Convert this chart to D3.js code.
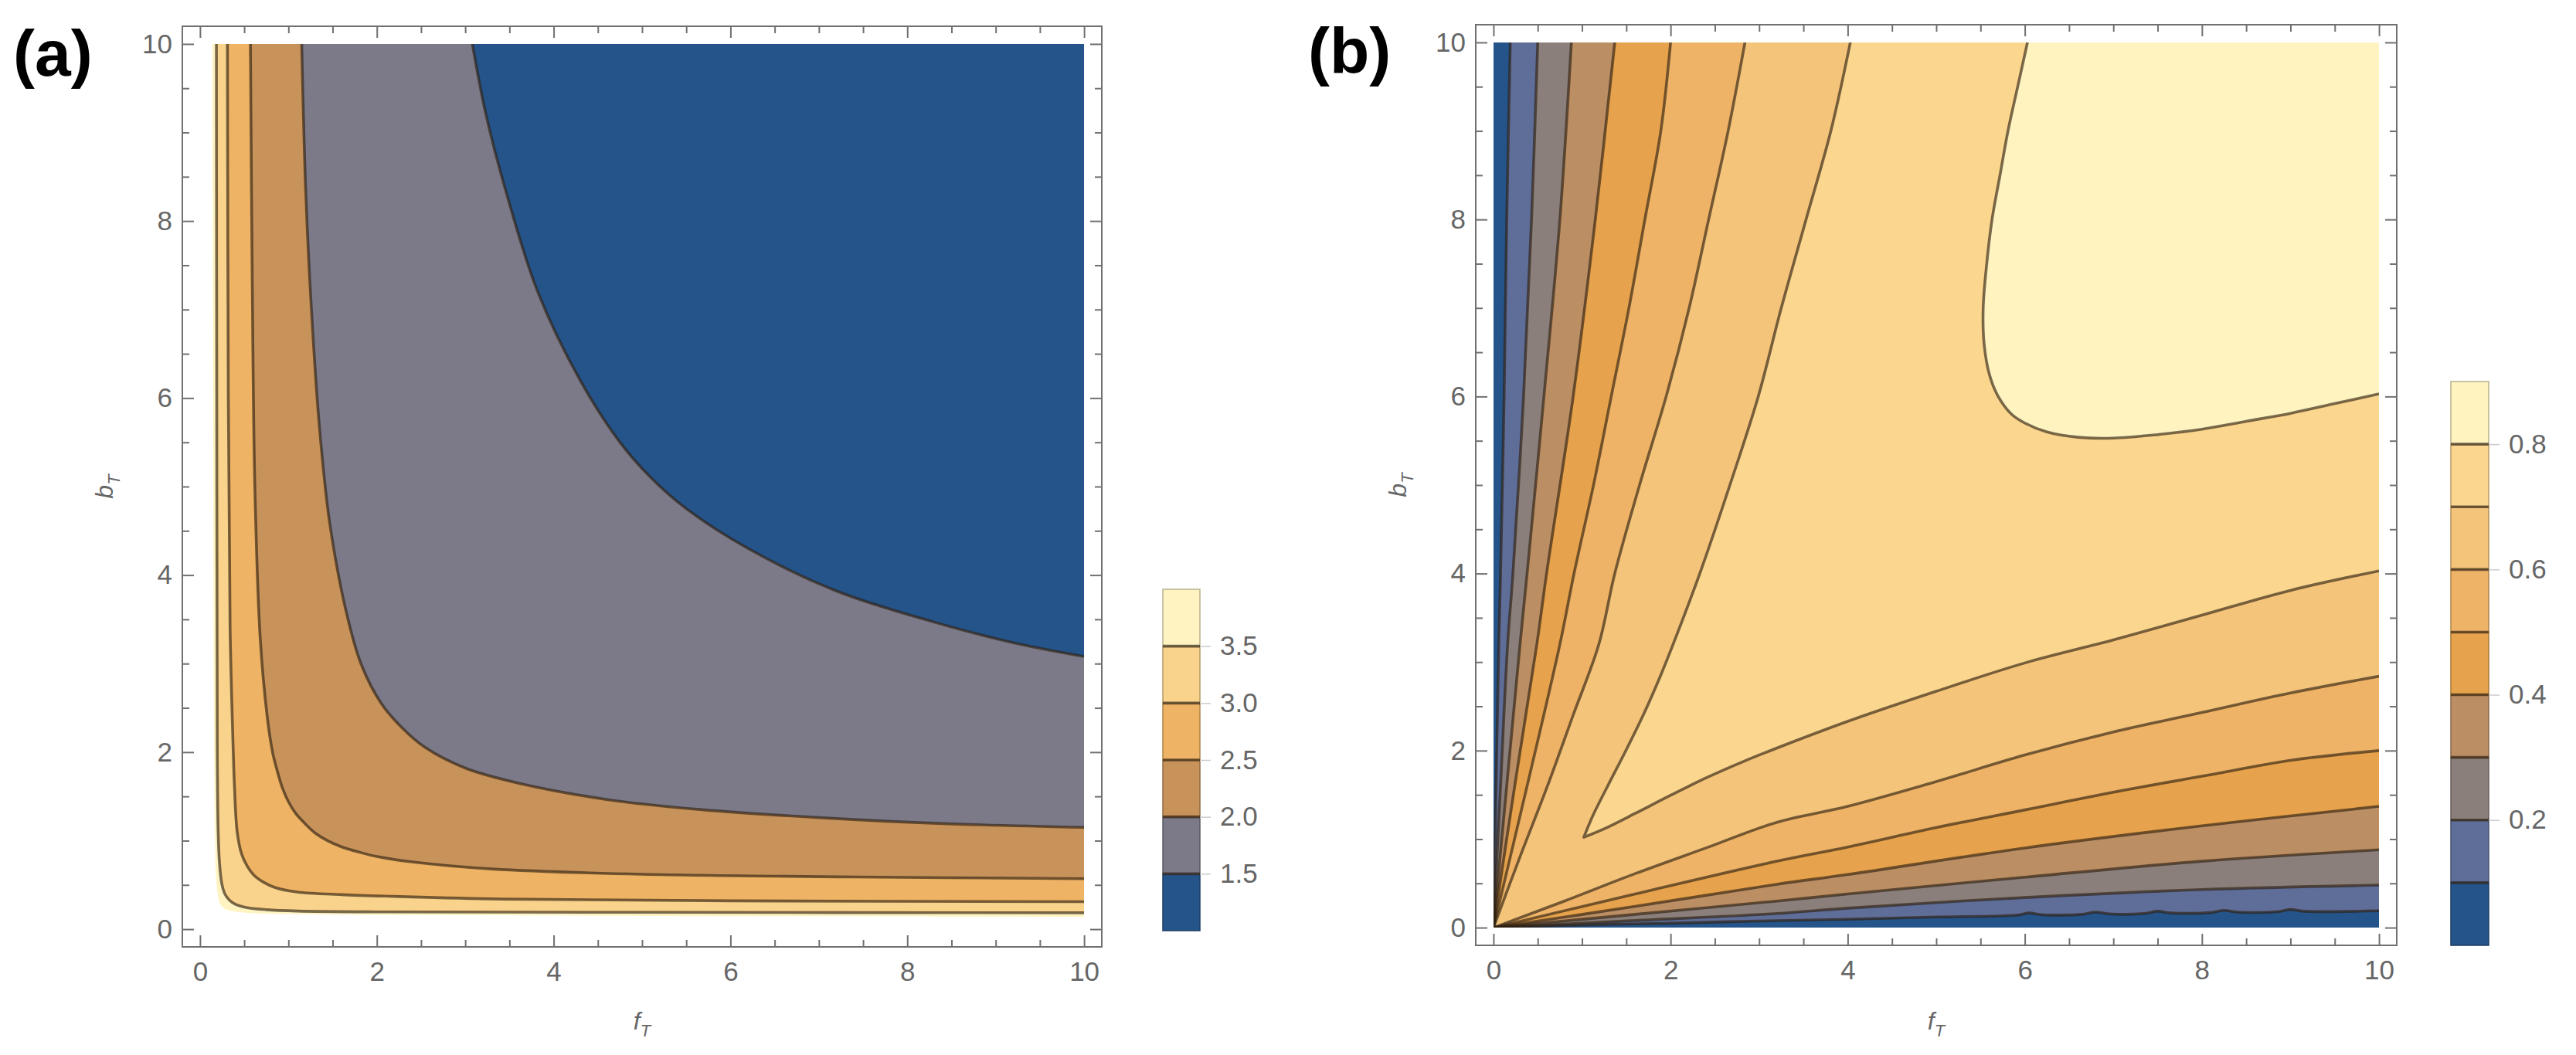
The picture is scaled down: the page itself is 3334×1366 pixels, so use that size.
<!DOCTYPE html>
<html><head><meta charset="utf-8">
<script src="https://cdn.jsdelivr.net/npm/d3@7"></script>
<style>html,body{margin:0;padding:0;background:#fff;}</style>
</head><body>
<svg id="chart" width="3334" height="1366" xmlns="http://www.w3.org/2000/svg"></svg>
<script>
// ---------------- DATA ----------------
const axisMajorTicks = [0, 2, 4, 6, 8, 10];
const axisMinorTicks = [0.5, 1, 1.5, 2.5, 3, 3.5, 4.5, 5, 5.5, 6.5, 7, 7.5, 8.5, 9, 9.5];

// Panel (a): contour levels and the contour lines [f_T, b_T], from top edge to right edge
const aLevels = [1.0, 1.5, 2.0, 2.5, 3.0, 3.5, 4.0];
const aLegendTicks = [1.5, 2.0, 2.5, 3.0, 3.5];
const aC15 = [[3.08,10],[3.235,9.2],[3.47,8.3],[3.82,7.2],[4.30,6.2],[4.75,5.5],[5.1,5.1],[5.5,4.75],[6.2,4.30],[7.2,3.82],[8.3,3.47],[9.2,3.235],[10,3.08]];
const aC20 = [[1.15,10],[1.195,8.35],[1.26,7.0],[1.35,5.68],[1.465,4.6],[1.65,3.6],[1.82,3.0],[2.05,2.55],[2.28,2.28],[2.55,2.05],[3.0,1.82],[3.6,1.65],[4.6,1.465],[5.68,1.35],[7.0,1.26],[8.35,1.195],[10,1.15]];
const aC25 = [[0.57,10],[0.59,7.4],[0.62,5.0],[0.68,3.3],[0.76,2.4],[0.82,2.0],[0.87,1.8],[0.93,1.6],[1.0,1.44],[1.08,1.31],[1.19,1.19],[1.31,1.08],[1.44,1.0],[1.6,0.93],[1.8,0.87],[2.0,0.82],[2.4,0.76],[3.3,0.68],[5.0,0.62],[7.4,0.59],[10,0.57]];
const aC30 = [[0.31,10],[0.32,6],[0.34,3.4],[0.37,2.2],[0.39,1.6],[0.42,1.1],[0.47,0.85],[0.53,0.72],[0.61,0.61],[0.72,0.53],[0.85,0.47],[1.1,0.42],[1.6,0.39],[2.2,0.37],[3.4,0.34],[6,0.32],[10,0.31]];
const aC35 = [[0.185,10],[0.19,5],[0.195,2],[0.205,1.1],[0.22,0.75],[0.245,0.52],[0.28,0.4],[0.33,0.33],[0.4,0.28],[0.52,0.245],[0.75,0.22],[1.1,0.205],[2,0.195],[5,0.19],[10,0.185]];
const aC40 = [[0.14,10],[0.15,5],[0.16,2],[0.17,1],[0.18,0.6],[0.2,0.4],[0.23,0.28],[0.28,0.23],[0.4,0.2],[0.6,0.18],[1,0.17],[2,0.16],[5,0.15],[10,0.14]];

// Panel (b): contour levels; each line = upper branch (top edge -> origin/vertex) + lower branch (-> right edge)
const bLevels = [0.0, 0.1, 0.2, 0.3, 0.4, 0.5, 0.6, 0.7, 0.8, 0.9];
const bLegendTicks = [0.2, 0.4, 0.6, 0.8];
const bC01U = [[0.19,10],[0.15,8],[0.12,6],[0.08,4],[0.06,3.2],[0.03,1.6],[0,0]];
const bC01L = [[0,0],[1,0.03],[2,0.05],[3,0.075],[4,0.095],[5,0.12],[5.9,0.14],[6.05,0.165],[6.2,0.145],[6.65,0.15],[6.8,0.175],[6.95,0.155],[7.35,0.16],[7.5,0.185],[7.65,0.165],[8.1,0.17],[8.25,0.195],[8.4,0.175],[8.85,0.18],[9.0,0.205],[9.15,0.185],[10,0.19]];
const bC02U = [[0.50,10],[0.43,8],[0.34,6],[0.22,4],[0.16,3.2],[0.08,1.6],[0,0]];
const bC02L = [[0,0],[1.6,0.08],[3.2,0.16],[4,0.22],[6,0.34],[8,0.43],[10,0.48]];
const bC03U = [[0.88,10],[0.75,8],[0.57,6],[0.38,4],[0.30,3.2],[0.15,1.6],[0,0]];
const bC03L = [[0,0],[1.6,0.15],[3.2,0.30],[4,0.38],[6,0.57],[8,0.75],[10,0.88]];
const bC04U = [[1.37,10],[1.15,8],[0.90,6],[0.60,4],[0.49,3.2],[0.24,1.6],[0,0]];
const bC04L = [[0,0],[1.6,0.24],[3.2,0.49],[4,0.60],[6,0.90],[8,1.15],[10,1.37]];
const bC05U = [[2.00,10],[1.89,9],[1.71,8],[1.53,7],[1.33,6],[1.13,5],[0.91,4],[0.75,3.2],[0.38,1.6],[0,0]];
const bC05L = [[0,0],[1.6,0.38],[3.2,0.75],[4,0.91],[5,1.13],[6,1.33],[7,1.53],[8,1.71],[9,1.89],[10,2.00]];
const bC06U = [[2.84,10],[2.65,9],[2.43,8],[2.21,7],[1.95,6],[1.65,5],[1.37,4],[1.19,3.2],[0.90,2.4],[0.61,1.6],[0.30,0.8],[0,0]];
const bC06L = [[0,0],[0.8,0.30],[1.6,0.61],[2.4,0.90],[3.2,1.19],[4,1.37],[5,1.65],[6,1.95],[7,2.21],[8,2.43],[9,2.65],[10,2.84]];
const bC07U = [[4.03,10],[3.81,9],[3.53,8],[3.25,7],[2.99,6],[2.67,5],[2.33,4],[2.04,3.23],[1.88,2.83],[1.70,2.42],[1.50,2.01],[1.29,1.60],[1.12,1.26],[1.02,1.02]];
const bC07L = [[1.02,1.02],[1.26,1.12],[1.60,1.29],[2.01,1.50],[2.42,1.70],[2.83,1.88],[3.23,2.04],[4,2.33],[5,2.67],[6,2.99],[7,3.25],[8,3.53],[9,3.81],[10,4.03]];
const bC08 = [[6.03,10],[5.92,9.5],[5.81,9],[5.72,8.5],[5.63,8],[5.57,7.5],[5.53,7],[5.54,6.6],[5.60,6.25],[5.70,6.0],[5.85,5.80],[6.0,5.70],[6.25,5.60],[6.6,5.54],[7,5.53],[7.5,5.57],[8,5.63],[8.5,5.72],[9,5.81],[9.5,5.92],[10,6.03]];

// ---------------- STYLE ----------------
const aColors = ["#25548a", "#7c7a89", "#c8935b", "#eeb365", "#f9d28b", "#fff4c1"];
const bColors = ["#25548a", "#5f6e98", "#8b7f7b", "#bb8e64", "#e6a24c", "#eeb366", "#f4c47b", "#fbd68f", "#fff3c0"];
const lineStroke = "rgba(45,32,15,0.64)";
const FONT = "'Liberation Sans', Arial, Helvetica, sans-serif";
const GRAY = "#666666";
const FRAME = "#707070";

const svg = d3.select("#chart");

function lineGen(x, y) {
  return d3.line().x(d => x(d[0])).y(d => y(d[1])).curve(d3.curveCatmullRom.alpha(0.5));
}
function branchesPath(branches, lg) {
  return branches.map((b, i) => { const s = lg(b); return i === 0 ? s : "L" + s.slice(1); }).join("");
}

function drawPanel(cfg) {
  const { id, frame, baseColor, layers, strokes, label, labelPos } = cfg;
  const x = d3.scaleLinear([-0.2, 10.2], [frame.left, frame.right]);
  const y = d3.scaleLinear([-0.2, 10.2], [frame.bottom, frame.top]);
  const g = svg.append("g");
  const clipId = "clip-" + id;
  g.append("clipPath").attr("id", clipId).append("rect")
    .attr("x", x(0)).attr("y", y(10)).attr("width", x(10) - x(0)).attr("height", y(0) - y(10));
  const plot = g.append("g").attr("clip-path", `url(#${clipId})`);
  plot.append("rect").attr("x", x(0)).attr("y", y(10)).attr("width", x(10) - x(0)).attr("height", y(0) - y(10)).attr("fill", baseColor);
  const lg = lineGen(x, y);
  const corner = `L${x(10)},${y(10)}Z`;
  layers.forEach(L => {
    plot.append("path").attr("d", branchesPath(L.branches, lg) + corner).attr("fill", L.color).attr("stroke", "none");
  });
  strokes.forEach(br => {
    plot.append("path").attr("d", branchesPath(br, lg)).attr("fill", "none")
      .attr("stroke", lineStroke).attr("stroke-width", 3.6).attr("stroke-linejoin", "round");
  });

  // frame
  g.append("rect").attr("x", frame.left).attr("y", frame.top)
    .attr("width", frame.right - frame.left).attr("height", frame.bottom - frame.top)
    .attr("fill", "none").attr("stroke", FRAME).attr("stroke-width", 2);

  const styleAxis = sel => {
    sel.attr("font-family", FONT).attr("font-size", 35);
    sel.select(".domain").remove();
    sel.selectAll(".tick line").attr("stroke", FRAME).attr("stroke-width", 2);
    sel.selectAll(".tick text").attr("fill", GRAY);
  };
  const blank = () => "";
  // major ticks (all four sides, inward)
  g.append("g").attr("transform", `translate(0,${frame.bottom})`)
    .call(d3.axisBottom(x).tickValues(axisMajorTicks).tickSizeInner(-15).tickSizeOuter(0).tickPadding(19).tickFormat(d3.format("d"))).call(styleAxis);
  g.append("g").attr("transform", `translate(${frame.left},0)`)
    .call(d3.axisLeft(y).tickValues(axisMajorTicks).tickSizeInner(-15).tickSizeOuter(0).tickPadding(13).tickFormat(d3.format("d"))).call(styleAxis);
  g.append("g").attr("transform", `translate(0,${frame.top})`)
    .call(d3.axisTop(x).tickValues(axisMajorTicks).tickSizeInner(-15).tickSizeOuter(0).tickFormat(blank)).call(styleAxis);
  g.append("g").attr("transform", `translate(${frame.right},0)`)
    .call(d3.axisRight(y).tickValues(axisMajorTicks).tickSizeInner(-15).tickSizeOuter(0).tickFormat(blank)).call(styleAxis);
  // minor ticks
  g.append("g").attr("transform", `translate(0,${frame.bottom})`)
    .call(d3.axisBottom(x).tickValues(axisMinorTicks).tickSizeInner(-9).tickSizeOuter(0).tickFormat(blank)).call(styleAxis);
  g.append("g").attr("transform", `translate(${frame.left},0)`)
    .call(d3.axisLeft(y).tickValues(axisMinorTicks).tickSizeInner(-9).tickSizeOuter(0).tickFormat(blank)).call(styleAxis);
  g.append("g").attr("transform", `translate(0,${frame.top})`)
    .call(d3.axisTop(x).tickValues(axisMinorTicks).tickSizeInner(-9).tickSizeOuter(0).tickFormat(blank)).call(styleAxis);
  g.append("g").attr("transform", `translate(${frame.right},0)`)
    .call(d3.axisRight(y).tickValues(axisMinorTicks).tickSizeInner(-9).tickSizeOuter(0).tickFormat(blank)).call(styleAxis);

  // axis labels
  const cx = (x(0) + x(10)) / 2, cy = (y(0) + y(10)) / 2;
  const fl = g.append("text").attr("x", cx).attr("y", 1333).attr("text-anchor", "middle")
    .attr("font-family", FONT).attr("font-size", 32).attr("fill", GRAY).attr("font-style", "italic");
  fl.append("tspan").text("f");
  fl.append("tspan").attr("dy", 9).attr("font-size", 22).text("T");
  const bl = g.append("text").attr("transform", `translate(${frame.left - 90},${cy}) rotate(-90)`).attr("text-anchor", "middle")
    .attr("font-family", FONT).attr("font-size", 32).attr("fill", GRAY).attr("font-style", "italic");
  bl.append("tspan").text("b");
  bl.append("tspan").attr("dy", 9).attr("font-size", 22).text("T");

  // panel label
  g.append("text").attr("x", labelPos[0]).attr("y", labelPos[1]).attr("font-family", FONT)
    .attr("font-weight", "bold").attr("font-size", 84).attr("fill", "#000").text(label);
}

function drawLegend(cfg) {
  const { levels, colors, ticks, x0, width, top, bottom } = cfg;
  const s = d3.scaleLinear([levels[0], levels[levels.length - 1]], [bottom, top]);
  const g = svg.append("g");
  for (let i = 0; i < colors.length; i++) {
    g.append("rect").attr("x", x0).attr("y", s(levels[i + 1])).attr("width", width)
      .attr("height", s(levels[i]) - s(levels[i + 1])).attr("fill", colors[i])
      .attr("stroke", d3.color(colors[i]).darker(0.9)).attr("stroke-width", 1.5);
  }
  levels.slice(1, -1).forEach(v => {
    g.append("line").attr("x1", x0).attr("x2", x0 + width).attr("y1", s(v)).attr("y2", s(v))
      .attr("stroke", lineStroke).attr("stroke-width", 3.6);
  });
  const ax = g.append("g").attr("transform", `translate(${x0 + width},0)`)
    .call(d3.axisRight(s).tickValues(ticks).tickSizeInner(14).tickSizeOuter(0).tickPadding(12).tickFormat(d3.format(".1f")));
  ax.attr("font-family", FONT).attr("font-size", 35);
  ax.select(".domain").remove();
  ax.selectAll(".tick line").attr("stroke", "#cccccc").attr("stroke-width", 1.5);
  ax.selectAll(".tick text").attr("fill", GRAY);
}

// Panel (a)
drawPanel({
  id: "a",
  frame: { left: 236, right: 1426, top: 34, bottom: 1226 },
  baseColor: "#ffffff",
  layers: [
    { branches: [aC40], color: aColors[5] },
    { branches: [aC35], color: aColors[4] },
    { branches: [aC30], color: aColors[3] },
    { branches: [aC25], color: aColors[2] },
    { branches: [aC20], color: aColors[1] },
    { branches: [aC15], color: aColors[0] }
  ],
  strokes: [[aC35], [aC30], [aC25], [aC20], [aC15]],
  label: "(a)", labelPos: [17, 98]
});
drawLegend({ levels: aLevels, colors: aColors, ticks: aLegendTicks, x0: 1505, width: 48, top: 763, bottom: 1205 });

// Panel (b)
const bBranches = [[bC01U, bC01L], [bC02U, bC02L], [bC03U, bC03L], [bC04U, bC04L], [bC05U, bC05L], [bC06U, bC06L], [bC07U, bC07L], [bC08]];
drawPanel({
  id: "b",
  frame: { left: 1910, right: 3102, top: 32, bottom: 1224 },
  baseColor: bColors[0],
  layers: bBranches.map((br, i) => ({ branches: br, color: bColors[i + 1] })),
  strokes: bBranches,
  label: "(b)", labelPos: [1693, 95]
});
drawLegend({ levels: bLevels, colors: bColors, ticks: bLegendTicks, x0: 3172, width: 49, top: 494, bottom: 1224 });
</script>
</body></html>
